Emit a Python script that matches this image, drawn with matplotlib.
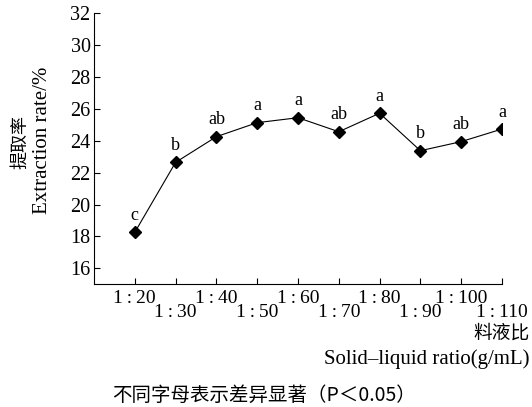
import numpy as np
import matplotlib
matplotlib.use("Agg")
import matplotlib.pyplot as plt

plt.rcParams["font.family"] = ["Liberation Serif", "DejaVu Serif"]

ratios = ["1:20", "1:30", "1:40", "1:50", "1:60", "1:70", "1:80", "1:90", "1:100", "1:110"]
rate = [18.26, 22.65, 24.26, 25.14, 25.45, 24.57, 25.73, 23.38, 23.95, 24.74]
letters = ["c", "b", "ab", "a", "a", "ab", "a", "b", "ab", "a"]
y_ticks = [16, 18, 20, 22, 24, 26, 28, 30, 32]

cjk = ["Noto Sans CJK SC", "DejaVu Sans"]

fig = plt.figure(figsize=(5.32, 4.07), dpi=100)
ax = fig.add_axes([94 / 532, 1 - 284.3 / 407, 408 / 532, (284.3 - 13.3) / 407])

pos = np.arange(1, len(ratios) + 1)
ax.plot(pos, rate, color="black", lw=0.8, marker="D", ms=6.5, mfc="black", mec="black")

for x, y, s in zip(pos, rate, letters):
    ax.annotate(s, (x, y), xytext=(0, 6), textcoords="offset points",
                ha="center", va="bottom", fontsize=13)

ax.set_xlim(0, 10)
ax.set_ylim(15, 32)
ax.set_yticks(y_ticks)
ax.set_yticklabels([str(v) for v in y_ticks])

# staggered labels: every other one goes on a lower row
lbl = [r.replace(":", "\u2009:\u2009") for r in ratios]
ax.set_xticks(pos[0::2], lbl[0::2])
ax.set_xticks(pos[1::2], lbl[1::2], minor=True)

ax.spines["top"].set_visible(False)
ax.spines["right"].set_visible(False)
ax.spines["left"].set_linewidth(0.8)
ax.spines["bottom"].set_linewidth(0.8)

ax.tick_params(axis="both", which="both", direction="in", length=4, width=0.8)
ax.tick_params(axis="x", which="both", labelsize=14)
ax.tick_params(axis="y", labelsize=14.5, pad=2.5)
ax.tick_params(axis="x", which="major", pad=4)
ax.tick_params(axis="x", which="minor", pad=14)

fig.text(20 / 532, 1 - 142 / 407, "提取率", family=cjk, rotation=90,
         ha="center", va="center", fontsize=13)
fig.text(43 / 532, 1 - 140 / 407, "Extraction rate/%", rotation=90,
         ha="center", va="center", fontsize=15)

fig.text(530 / 532, 1 - 333 / 407, "料液比", family=cjk,
         ha="right", va="center", fontsize=13.5)
fig.text(530 / 532, 1 - 359 / 407, "Solid\u2013liquid ratio(g/mL)",
         ha="right", va="center", fontsize=15)

fig.text(264 / 532, 1 - 395 / 407, "不同字母表示差异显著（P＜0.05）", family=cjk,
         ha="center", va="center", fontsize=14)

fig.savefig("out.png", dpi=100)
